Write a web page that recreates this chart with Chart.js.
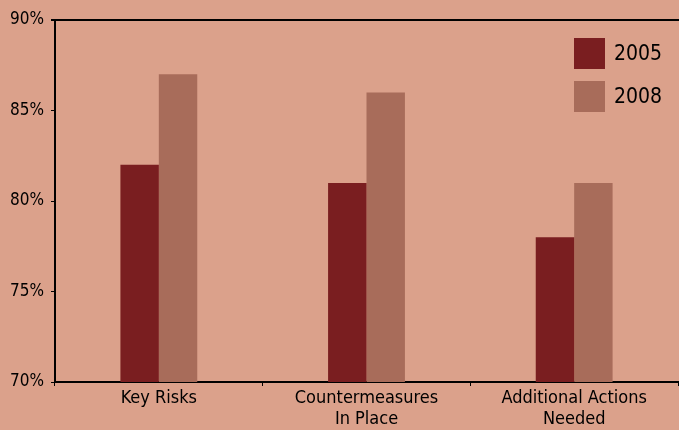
<!DOCTYPE html>
<html>
<head>
<meta charset="utf-8">
<script src="https://cdn.jsdelivr.net/npm/chart.js@4/dist/chart.umd.min.js"></script>
<style>
  html, body { margin: 0; padding: 0; background: #DBA18B; }
  #wrap { width: 679px; height: 430px; position: relative; }
</style>
</head>
<body>
<div id="wrap"><canvas id="c" width="679" height="430"></canvas></div>
<script>
const categories = [["Key Risks"], ["Countermeasures", "In Place"], ["Additional Actions", "Needed"]];
const seriesNames = ["2005", "2008"];
const values2005 = [82, 81, 78];
const values2008 = [87, 86, 81];
const yTicks = [70, 75, 80, 85, 90];

const FONT = "'DejaVu Sans Condensed', 'DejaVu Sans', sans-serif";
const colors = ["#7A1E20", "#A86C5A"];

const bgPlugin = {
  id: 'bg',
  beforeDraw(chart) {
    const ctx = chart.ctx;
    ctx.save();
    ctx.fillStyle = '#DBA18B';
    ctx.fillRect(0, 0, chart.width, chart.height);
    ctx.restore();
  },
  afterDraw(chart) {
    const ctx = chart.ctx;
    const y = chart.scales.y;
    const top = y.getPixelForValue(90);
    ctx.save();
    ctx.strokeStyle = '#000';
    ctx.lineWidth = 2;
    ctx.beginPath();
    ctx.moveTo(chart.chartArea.left - 4, top);
    ctx.lineTo(chart.width, top);
    ctx.stroke();
    // legend
    const x0 = 574, size = 31;
    const ys = [38, 81];
    ctx.font = "21px " + FONT;
    ctx.textBaseline = 'middle';
    ctx.textAlign = 'left';
    chart.data.datasets.forEach((ds, i) => {
      ctx.fillStyle = ds.backgroundColor;
      ctx.fillRect(x0, ys[i], size, size);
      ctx.fillStyle = '#000';
      ctx.fillText(ds.label, x0 + 40, ys[i] + size / 2 + 1);
    });
    ctx.restore();
  }
};

new Chart(document.getElementById('c'), {
  type: 'bar',
  data: {
    labels: categories,
    datasets: [
      { label: seriesNames[0], data: values2005, backgroundColor: colors[0] },
      { label: seriesNames[1], data: values2008, backgroundColor: colors[1] }
    ]
  },
  options: {
    responsive: false,
    animation: false,
    devicePixelRatio: 1,
    layout: { padding: { top: 20, right: 1, left: 0, bottom: 0 } },
    categoryPercentage: 0.37,
    barPercentage: 1.0,
    plugins: { legend: { display: false }, tooltip: { enabled: false } },
    scales: {
      x: {
        offset: true,
        grid: { display: true, drawOnChartArea: false, color: '#000', tickLength: 4, offset: true },
        border: { display: true, color: '#000', width: 2 },
        ticks: { color: '#000', font: { family: FONT, size: 18, lineHeight: 1.15 }, padding: 2, maxRotation: 0, autoSkip: false },
        afterFit(s) { s.height = 48; }
      },
      y: {
        min: 70, max: 90,
        afterBuildTicks(s) { s.ticks = yTicks.map(v => ({ value: v })); },
        grid: { display: true, drawOnChartArea: false, color: '#000', tickLength: 4 },
        border: { display: true, color: '#000', width: 2 },
        ticks: { color: '#000', font: { family: FONT, size: 17 }, padding: 7, callback: v => v + '%' },
        afterFit(s) { s.width = 55; }
      }
    }
  },
  plugins: [bgPlugin]
});
</script>
</body>
</html>
